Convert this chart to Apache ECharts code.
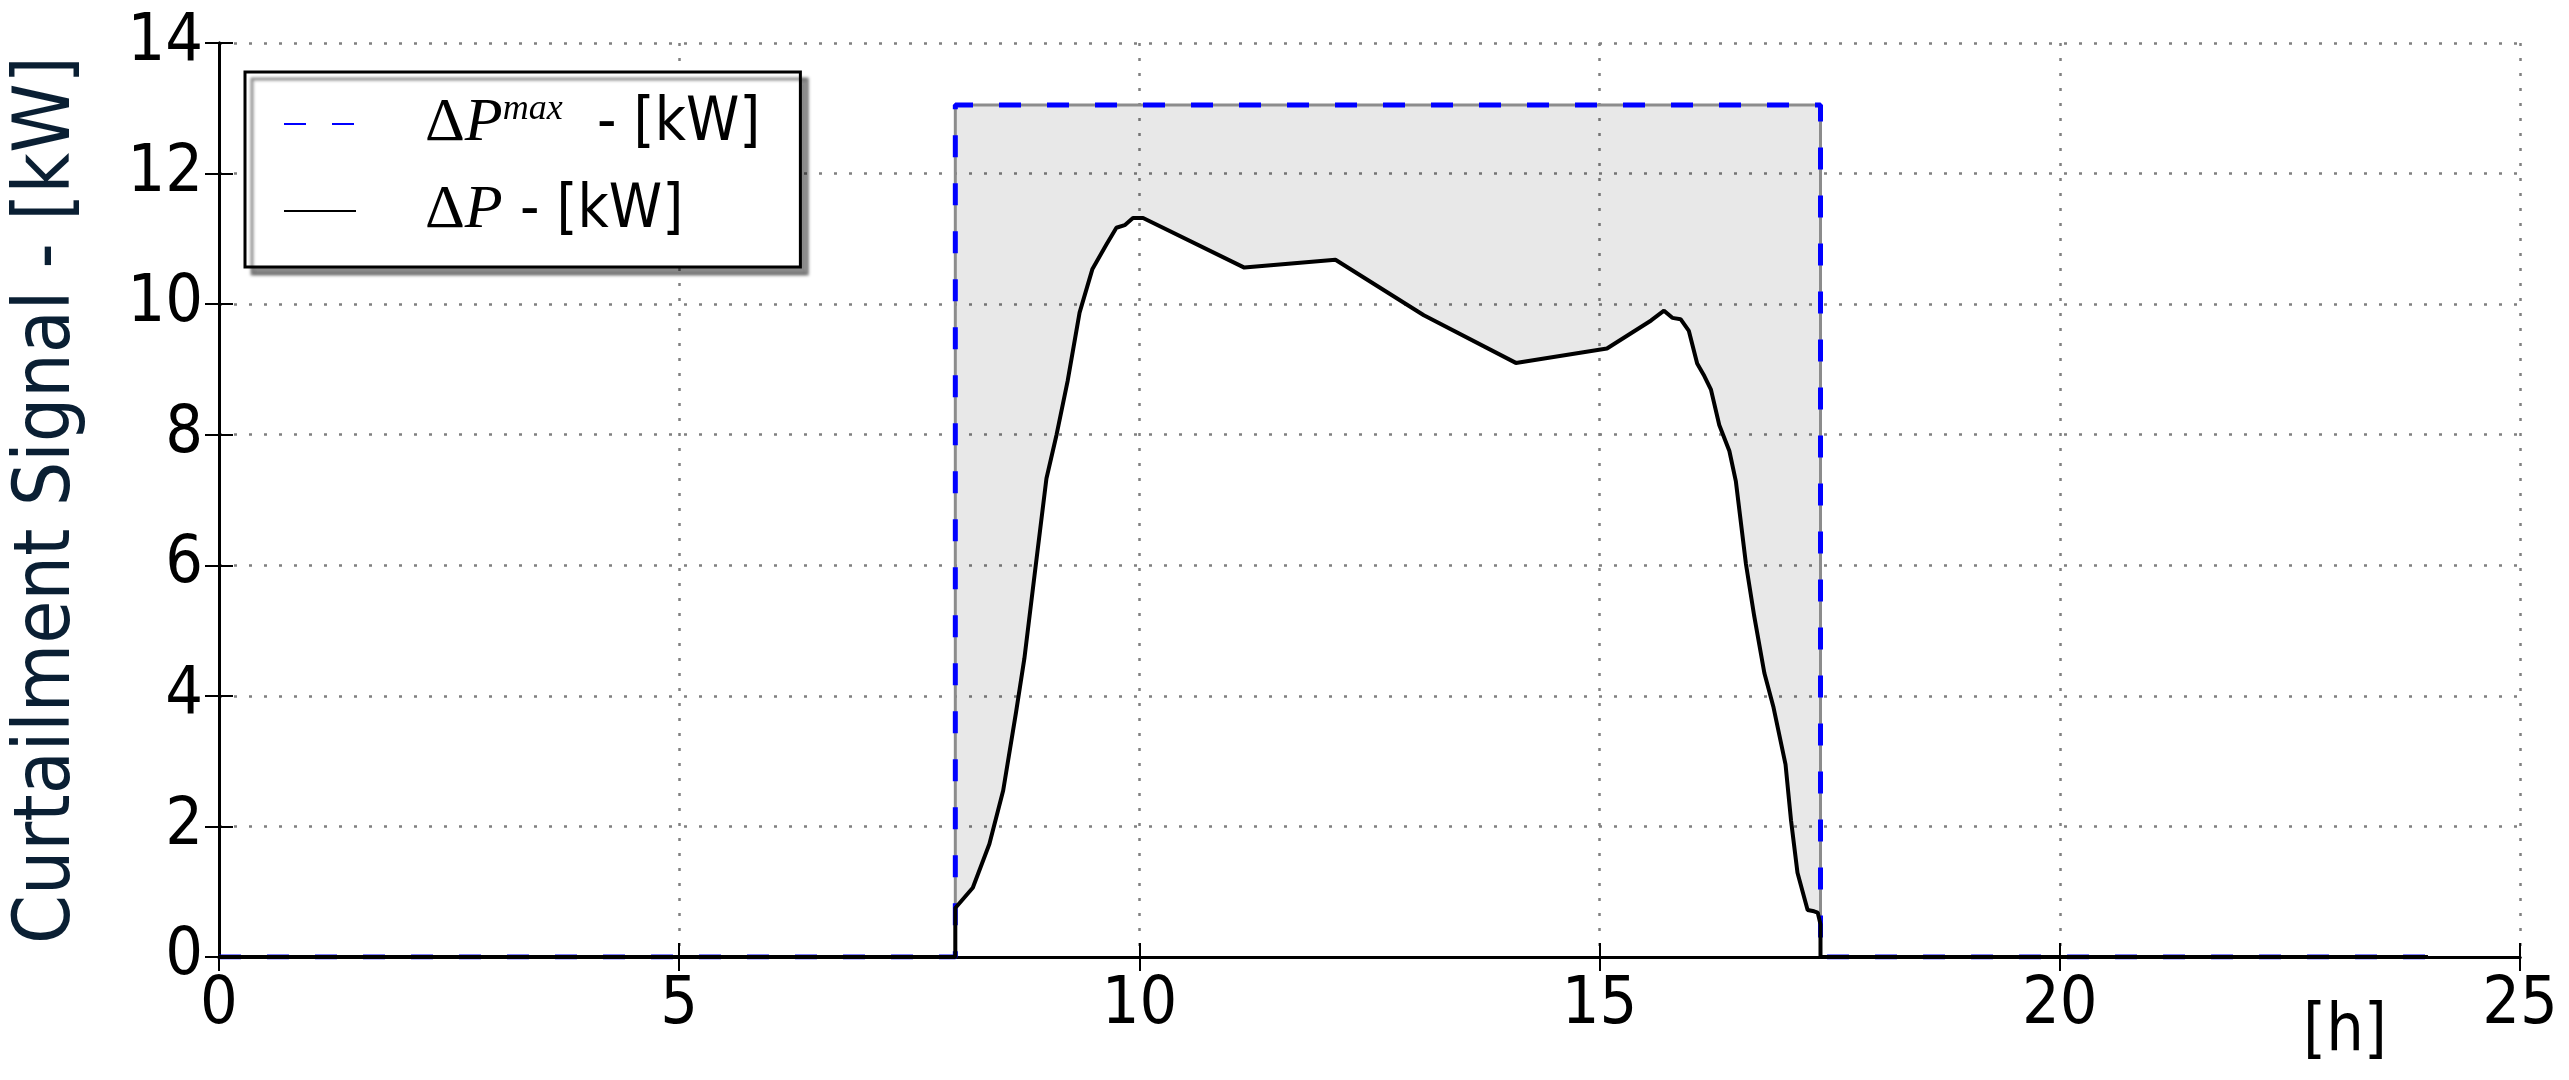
<!DOCTYPE html>
<html>
<head>
<meta charset="utf-8">
<script src="https://cdn.jsdelivr.net/npm/echarts@6/dist/echarts.min.js"></script>
<style>
  html, body { margin: 0; padding: 0; background: #fff; }
  #chart { width: 2569px; height: 1080px; }
</style>
</head>
<body>
<div id="chart"></div>
<script>
// curtailment signal (time of day in hours -> kW)
const hours = [0, 8, 8, 8.19, 8.37, 8.52, 8.66, 8.75, 8.86, 8.99, 9.10, 9.22, 9.35, 9.49, 9.64, 9.75, 9.84, 9.93, 10.04,
  11.14, 12.13, 13.09, 14.09, 15.08, 15.56, 15.70, 15.79, 15.88, 15.97, 16.06, 16.13, 16.21, 16.30, 16.41, 16.48,
  16.59, 16.68, 16.79, 16.89, 17.02, 17.08, 17.15, 17.26, 17.33, 17.37, 17.40, 17.40, 24];
const deltaP = [0, 0, 0.75, 1.06, 1.73, 2.55, 3.75, 4.57, 5.84, 7.33, 8.00, 8.82, 9.87, 10.54, 10.91, 11.17, 11.21, 11.32, 11.32,
  10.56, 10.68, 9.83, 9.10, 9.32, 9.75, 9.90, 9.79, 9.77, 9.59, 9.09, 8.92, 8.69, 8.15, 7.75, 7.29,
  6.02, 5.22, 4.35, 3.82, 2.95, 2.09, 1.29, 0.72, 0.70, 0.68, 0.50, 0, 0];

// maximum curtailment envelope
const maxHours = [0, 8, 8, 17.4, 17.4, 24];
const maxValues = [0, 0, 13.05, 13.05, 0, 0];

const xTicks = { min: 0, max: 25, step: 5 };
const yTicks = { min: 0, max: 14, step: 2 };

const legendNames = ['dPmax', 'dP'];

const sans = "'DejaVu Sans Condensed', 'DejaVu Sans', sans-serif";
const serif = "'Liberation Serif', 'DejaVu Serif', serif";

const chart = echarts.init(document.getElementById('chart'));

// shaded band between dP and dPmax inside the curtailment window
const maxLevel = Math.max(...maxValues);
const windowStart = maxHours[2], windowEnd = maxHours[3];
const inside = hours.map((h, i) => [h, deltaP[i]]).filter(p => p[0] >= windowStart && p[0] <= windowEnd);
const bandPoints = [[windowStart, maxLevel], [windowEnd, maxLevel]].concat(inside.slice().reverse());

const gridLine = { show: true, lineStyle: { color: '#808080', width: 2.5, type: [3, 12] } };
const frameLine = { show: true, lineStyle: { color: '#000', width: 3 } };
const innerTick = { show: true, inside: true, length: 14, lineStyle: { color: '#000', width: 2 } };

const option = {
  backgroundColor: '#fff',
  animation: false,
  title: {
    text: '[h]',
    left: 2298,
    top: 995,
    textStyle: { fontFamily: sans, fontSize: 66, fontWeight: 'normal', color: '#000' }
  },
  grid: { left: 219, right: 49, top: 43, bottom: 123 },
  legend: {
    orient: 'vertical',
    left: 245,
    top: 72,
    padding: [20, 40, 25, 38],
    itemGap: 25,
    itemWidth: 72,
    itemHeight: 20,
    backgroundColor: '#fff',
    borderColor: '#000',
    borderWidth: 3,
    shadowColor: 'rgba(0,0,0,0.45)',
    shadowBlur: 3,
    shadowOffsetX: 7,
    shadowOffsetY: 7,
    itemStyle: { opacity: 0 },
    data: legendNames,
    formatter: function (name) {
      if (name === 'dPmax') return '{sp| }{d|Δ}{p|P}{s|max}{t|  - [kW]}';
      return '{sp| }{d|Δ}{p|P}{t| - [kW]}';
    },
    textStyle: {
      color: '#000',
      rich: {
        sp: { width: 64 },
        d: { fontFamily: serif, fontSize: 62, lineHeight: 64, color: '#000' },
        p: { fontFamily: serif, fontStyle: 'italic', fontSize: 62, lineHeight: 64, color: '#000' },
        s: { fontFamily: serif, fontStyle: 'italic', fontSize: 36, lineHeight: 30, verticalAlign: 'top', color: '#000' },
        t: { fontFamily: sans, fontSize: 60, lineHeight: 64, color: '#000' }
      }
    }
  },
  xAxis: [{
    type: 'value', min: xTicks.min, max: xTicks.max, interval: xTicks.step,
    axisLine: frameLine, axisTick: innerTick, splitLine: gridLine,
    axisLabel: { fontFamily: sans, fontSize: 66, color: '#000', margin: 16 }
  }, {
    type: 'value', position: 'top', min: xTicks.min, max: xTicks.max, interval: xTicks.step,
    axisLine: frameLine, axisTick: innerTick, splitLine: { show: false }, axisLabel: { show: false }
  }],
  yAxis: [{
    type: 'value', min: yTicks.min, max: yTicks.max, interval: yTicks.step,
    axisLine: frameLine, axisTick: innerTick, splitLine: gridLine,
    axisLabel: { fontFamily: sans, fontSize: 66, color: '#000', margin: 16 },
    name: 'Curtailment Signal - [kW]',
    nameLocation: 'middle',
    nameGap: 131,
    nameTextStyle: { fontFamily: sans, fontSize: 78, color: '#0a1f33' }
  }, {
    type: 'value', position: 'right', min: yTicks.min, max: yTicks.max, interval: yTicks.step,
    axisLine: frameLine, axisTick: innerTick, splitLine: { show: false }, axisLabel: { show: false }
  }],
  series: [
    {
      name: 'band', type: 'custom', silent: true, z: 1,
      data: [[windowStart, maxLevel]],
      renderItem: function (params, api) {
        return {
          type: 'polygon',
          shape: { points: bandPoints.map(p => api.coord(p)) },
          style: { fill: 'rgba(0,0,0,0.09)' }
        };
      }
    },
    {
      name: 'dPmaxEdge', type: 'line', symbol: 'none', silent: true,
      lineStyle: { color: '#8c8c8c', width: 3 },
      data: maxHours.map((h, i) => [h, maxValues[i]]), z: 2
    },
    {
      name: 'dPmax', type: 'line', symbol: 'none',
      lineStyle: { color: '#0000ff', width: 5, type: [22, 26] },
      itemStyle: { color: '#0000ff' },
      data: maxHours.map((h, i) => [h, maxValues[i]]), z: 3
    },
    {
      name: 'dP', type: 'line', symbol: 'none',
      lineStyle: { color: '#000', width: 4 },
      itemStyle: { color: '#000' },
      data: hours.map((h, i) => [h, deltaP[i]]), z: 4
    }
  ]
};

chart.setOption(option);
</script>
</body>
</html>
